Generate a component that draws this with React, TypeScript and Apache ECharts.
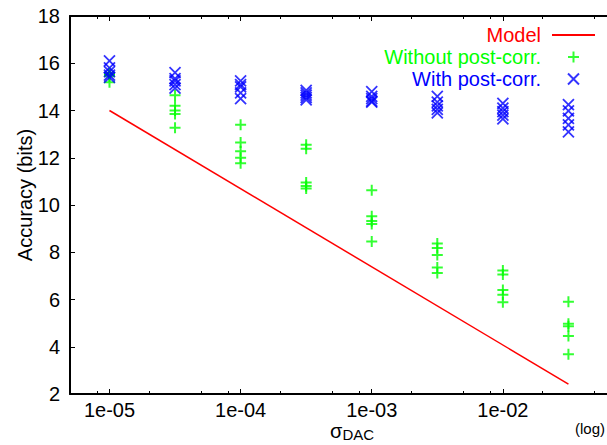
import React, { useEffect, useRef } from 'react';
import * as echarts from 'echarts';

const FONT = '"Liberation Sans", Arial, Helvetica, sans-serif';

const sigmaValues = [1e-5, 3.162e-5, 1e-4, 3.162e-4, 1e-3, 3.162e-3, 1e-2, 3.162e-2];

const withoutPostCorr = [
  [15.2, 15.45, 15.55, 15.6, 15.5],
  [14.65, 14.2, 14.0, 13.85, 13.27],
  [13.4, 12.65, 12.28, 12.0, 11.77],
  [12.55, 12.38, 10.95, 10.8, 10.7],
  [10.62, 9.52, 9.32, 9.2, 8.45],
  [8.37, 8.18, 7.88, 7.35, 7.12],
  [7.23, 7.06, 6.4, 6.2, 5.88],
  [5.91, 4.97, 4.87, 4.45, 3.68],
];

const withPostCorr = [
  [16.1, 15.8, 15.65, 15.5, 15.4],
  [15.6, 15.35, 15.25, 15.1, 14.95],
  [15.25, 15.1, 15.0, 14.75, 14.5],
  [14.85, 14.75, 14.65, 14.55, 14.45],
  [14.8, 14.6, 14.5, 14.4, 14.35],
  [14.6, 14.35, 14.2, 14.05, 13.9],
  [14.3, 14.1, 13.95, 13.8, 13.65],
  [14.25, 13.98, 13.67, 13.39, 13.1],
];

const modelX = [1e-5, 3.162e-2];
const modelY = [14.0, 2.42];

const majorTicks = [1e-5, 1e-4, 1e-3, 1e-2];
const majorTickLabels = ['1e-05', '1e-04', '1e-03', '1e-02'];
const minorTicks = [8e-6, 2e-5, 5e-5, 8e-5, 2e-4, 5e-4, 8e-4, 2e-3, 5e-3, 8e-3, 2e-2, 5e-2, 8e-2];

const seriesNames = ['Model', 'Without post-corr.', 'With post-corr.'];
const seriesColors = ['#ff0000', '#00ff00', '#0000ff'];

const X_MIN = 5e-6;
const X_MAX = 0.1;

function toPoints(cols: number[][]) {
  const pts: number[][] = [];
  cols.forEach((col, i) => col.forEach((v) => pts.push([sigmaValues[i], v])));
  return pts;
}

function labelFor(v: number) {
  const i = majorTicks.findIndex((t) => Math.abs(Math.log10(t) - Math.log10(v)) < 1e-6);
  return i >= 0 ? majorTickLabels[i] : '';
}

export default function App() {
  const ref = useRef<HTMLDivElement>(null);

  useEffect(() => {
    if (!ref.current) return;
    const chart = echarts.init(ref.current, undefined, { renderer: 'svg' });
    const axisLine = { show: true, lineStyle: { color: '#000', width: 2 } };
    const baseX = {
      type: 'log' as const,
      logBase: 10,
      min: X_MIN,
      max: X_MAX,
      splitLine: { show: false },
    };
    chart.setOption({
      animation: false,
      backgroundColor: '#fff',
      grid: { left: 70, top: 16, width: 564, height: 378, containLabel: false, outerBoundsMode: 'none' },
      xAxis: [
        {
          ...baseX,
          position: 'bottom',
          axisLine,
          axisTick: { show: true, inside: true, length: 5, lineStyle: { color: '#000', width: 1 }, customValues: majorTicks },
          axisLabel: {
            show: true,
            customValues: majorTicks,
            formatter: (v: number) => labelFor(v),
            fontSize: 20,
            fontFamily: FONT,
            color: '#000',
            margin: 6,
          },
        },
        {
          ...baseX,
          position: 'bottom',
          axisLine: { show: false },
          axisTick: { show: true, inside: true, length: 3, lineStyle: { color: '#000', width: 1 }, customValues: minorTicks },
          axisLabel: { show: false },
        },
        {
          ...baseX,
          position: 'top',
          axisLine,
          axisTick: { show: true, inside: true, length: 5, lineStyle: { color: '#000', width: 1 }, customValues: majorTicks },
          axisLabel: { show: false },
        },
        {
          ...baseX,
          position: 'top',
          axisLine: { show: false },
          axisTick: { show: true, inside: true, length: 3, lineStyle: { color: '#000', width: 1 }, customValues: minorTicks },
          axisLabel: { show: false },
        },
      ],
      yAxis: {
        type: 'value',
        min: 2,
        max: 18,
        interval: 2,
        position: 'left',
        axisLine,
        axisTick: { show: true, inside: true, length: 5, lineStyle: { color: '#000', width: 1 } },
        axisLabel: { fontSize: 20, fontFamily: FONT, color: '#000', margin: 10 },
        splitLine: { show: false },
      },
      legend: {
        orient: 'vertical',
        right: 11,
        top: 25,
        padding: 0,
        align: 'right',
        itemWidth: 43,
        itemHeight: 11,
        itemGap: 2,
        selectedMode: false,
        textStyle: { fontSize: 20, fontFamily: FONT, lineHeight: 20, padding: [0, 6, 0, 0] },
        data: seriesNames.map((n, i) =>
          i === 0
            ? {
                name: n,
                textStyle: { color: seriesColors[i] },
                itemStyle: { color: 'rgba(0,0,0,0)', borderColor: 'rgba(0,0,0,0)', borderWidth: 0 },
              }
            : { name: n, textStyle: { color: seriesColors[i] } }
        ),
      },
      series: [
        {
          name: seriesNames[0],
          type: 'line',
          xAxisIndex: 0,
          data: modelX.map((x, i) => [x, modelY[i]]),
          symbol: 'none',
          lineStyle: { color: seriesColors[0], width: 1.5 },
          itemStyle: { color: seriesColors[0] },
        },
        {
          name: seriesNames[1],
          type: 'scatter',
          xAxisIndex: 0,
          data: toPoints(withoutPostCorr),
          symbol: 'path://M0,5L10,5M5,0L5,10',
          symbolSize: 11,
          itemStyle: { color: 'none', borderColor: seriesColors[1], borderWidth: 2 },
        },
        {
          name: seriesNames[2],
          type: 'scatter',
          xAxisIndex: 0,
          data: toPoints(withPostCorr),
          symbol: 'path://M0,0L10,10M10,0L0,10',
          symbolSize: 11,
          itemStyle: { color: 'none', borderColor: seriesColors[2], borderWidth: 1.8 },
        },
      ],
      graphic: [
        {
          type: 'text',
          x: 25,
          y: 195,
          rotation: Math.PI / 2,
          style: {
            text: 'Accuracy (bits)',
            fontSize: 20,
            fontFamily: FONT,
            fill: '#000',
            align: 'center',
            verticalAlign: 'middle',
          },
        },
        {
          type: 'text',
          x: 330,
          y: 431,
          style: { text: 'σ', fontSize: 20, fontFamily: FONT, fill: '#000', align: 'left', verticalAlign: 'middle' },
        },
        {
          type: 'text',
          x: 342.5,
          y: 434.8,
          style: { text: 'DAC', fontSize: 15, fontFamily: FONT, fill: '#000', align: 'left', verticalAlign: 'middle' },
        },
        {
          type: 'text',
          x: 605,
          y: 428,
          style: { text: '(log)', fontSize: 15, fontFamily: FONT, fill: '#000', align: 'right', verticalAlign: 'middle' },
        },
      ],
    });
    return () => chart.dispose();
  }, []);

  return (
    <div
      ref={ref}
      style={{ position: 'fixed', left: 0, top: 0, width: 607, height: 445, background: '#fff' }}
    />
  );
}
